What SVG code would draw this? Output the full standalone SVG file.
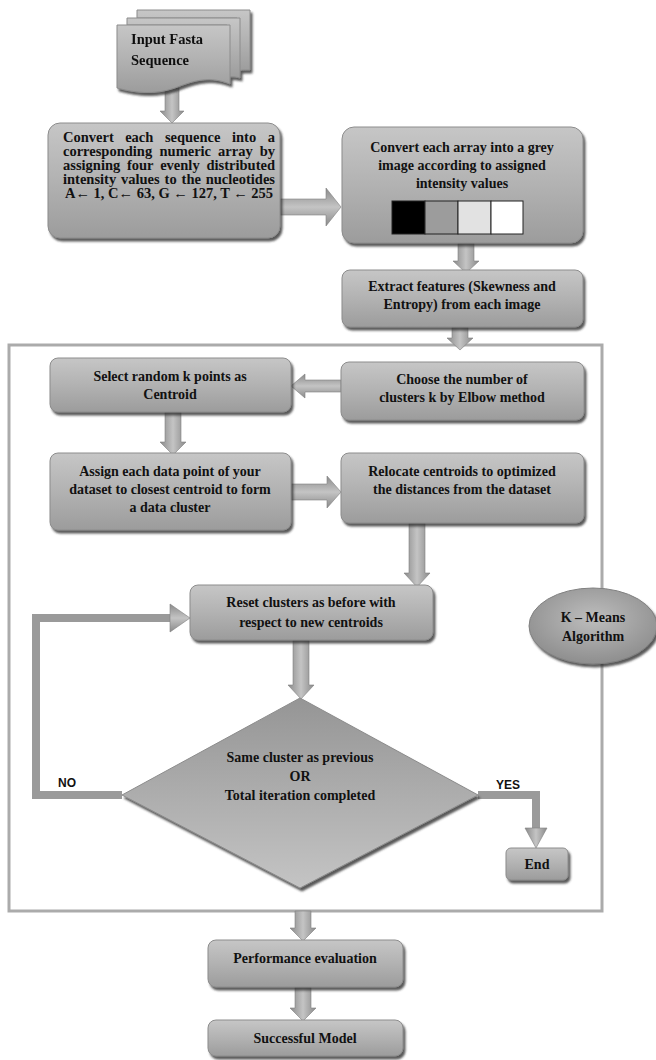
<svg xmlns="http://www.w3.org/2000/svg" width="656" height="1060" viewBox="0 0 656 1060">
<defs>
  <linearGradient id="gBox" x1="0" y1="0" x2="0" y2="1">
    <stop offset="0" stop-color="#c6c6c6"/>
    <stop offset="0.5" stop-color="#b2b2b2"/>
    <stop offset="1" stop-color="#9c9c9c"/>
  </linearGradient>
  <linearGradient id="gArrV" x1="0" y1="0" x2="1" y2="0">
    <stop offset="0" stop-color="#8a8a8a"/>
    <stop offset="0.5" stop-color="#c4c4c4"/>
    <stop offset="1" stop-color="#8a8a8a"/>
  </linearGradient>
  <linearGradient id="gArrH" x1="0" y1="0" x2="0" y2="1">
    <stop offset="0" stop-color="#8a8a8a"/>
    <stop offset="0.5" stop-color="#c4c4c4"/>
    <stop offset="1" stop-color="#8a8a8a"/>
  </linearGradient>
  <linearGradient id="gDia" x1="0" y1="0" x2="0" y2="1">
    <stop offset="0" stop-color="#959595"/>
    <stop offset="1" stop-color="#c4c4c4"/>
  </linearGradient>
  <radialGradient id="gEll" cx="0.5" cy="0.4" r="0.6">
    <stop offset="0" stop-color="#bdbdbd"/>
    <stop offset="1" stop-color="#8e8e8e"/>
  </radialGradient>
  <filter id="sh" x="-10%" y="-10%" width="125%" height="130%">
    <feDropShadow dx="2" dy="3" stdDeviation="1.2" flood-color="#333" flood-opacity="0.8"/>
  </filter>
  <style>
    .box{fill:url(#gBox);stroke:#8c8c8c;stroke-width:1;filter:url(#sh)}
    .t{font-family:"Liberation Serif","Times New Roman",serif;font-weight:bold;font-size:14px;fill:#111;text-anchor:middle}
    .tl{font-family:"Liberation Serif","Times New Roman",serif;font-weight:bold;font-size:14.5px;fill:#111}
    .lab{font-family:"Liberation Sans",Arial,sans-serif;font-weight:bold;font-size:12px;fill:#111}
    .av{fill:url(#gArrV);stroke:#808080;stroke-width:0.6}
    .ah{fill:url(#gArrH);stroke:#808080;stroke-width:0.6}
    .ln{fill:none;stroke:#9a9a9a;stroke-width:8}
    .e{text-anchor:end}
  </style>
</defs>
<rect width="656" height="1060" fill="#fff"/>

<!-- frame -->
<rect id="frame" x="9" y="345" width="593" height="566" fill="none" stroke="#ababab" stroke-width="3"/>

<!-- connectors -->
<g id="connectors">
  <polygon class="av" points="165,88 179,88 179,111 184,111 172,123 160,111 165,111"/>
  <polygon class="ah" points="280,199 326,199 326,188 341,207 326,226 326,215 280,215"/>
  <polygon class="av" points="458,243 474,243 474,261 479,261 466,273 453,261 458,261"/>
  <polygon class="av" points="452,327 468,327 468,338 473,338 460,350 447,338 452,338"/>
  <polygon class="ah" points="341,380 305,380 305,374 291,386 305,398 305,392 341,392"/>
  <polygon class="av" points="165,412 181,412 181,442 186,442 173,455 160,442 165,442"/>
  <polygon class="ah" points="291,484 327,484 327,476 341,492 327,508 327,500 291,500"/>
  <polygon class="av" points="409,523 425,523 425,573 430,573 417,587 404,573 409,573"/>
  <polygon class="av" points="293,640 309,640 309,685 314,685 301,699 288,685 293,685"/>
  <polyline class="ln" points="122,795 36,795 36,618 172,618"/>
  <polygon class="ah" points="170,604 190,618 170,632"/>
  <polyline class="ln" points="478,795 536,795 536,830"/>
  <polygon class="av" points="525,828 547,828 536,848"/>
  <polygon class="av" points="295,911 311,911 311,928 316,928 303,941 290,928 295,928"/>
  <polygon class="av" points="295,987 311,987 311,1008 316,1008 303,1021 290,1008 295,1008"/>
  <text class="lab" x="58" y="787">NO</text>
  <text class="lab" x="496" y="789">YES</text>
</g>

<!-- input document stack -->
<g id="input" filter="url(#sh)">
  <path d="M137,10 H250 V70 C240,70 240,70 237,72 V18 H137 Z" fill="url(#gBox)" stroke="#8c8c8c"/>
  <path d="M127,18 H240 V78 C232,76 230,77 227,78 V25 H127 Z" fill="url(#gBox)" stroke="#8c8c8c"/>
  <path d="M117,25 H230 V84 C210,76 195,80 175,88 C155,95 135,93 117,88 Z" fill="url(#gBox)" stroke="#8c8c8c"/>
  <text class="tl" x="131" y="44" font-size="15.5">Input Fasta</text>
  <text class="tl" x="131" y="65" font-size="15.5">Sequence</text>
</g>

<g id="convert-seq">
  <rect class="box" x="48" y="123" width="232" height="115" rx="12"/>
  <text class="tl" y="142"><tspan x="63">Convert</tspan><tspan x="125.2">each</tspan><tspan x="164.9">sequence</tspan><tspan x="232">into</tspan><tspan x="275" class="e">a</tspan></text>
  <text class="tl" y="156"><tspan x="63">corresponding</tspan><tspan x="159.5">numeric</tspan><tspan x="218.1">array</tspan><tspan x="275" class="e">by</tspan></text>
  <text class="tl" y="170"><tspan x="63">assigning</tspan><tspan x="126.9">four</tspan><tspan x="160.2">evenly</tspan><tspan x="275" class="e">distributed</tspan></text>
  <text class="tl" y="184"><tspan x="63">intensity</tspan><tspan x="121">values</tspan><tspan x="164.6">to</tspan><tspan x="181.6">the</tspan><tspan x="275" class="e">nucleotides</tspan></text>
  <text class="tl" x="169" y="198" text-anchor="middle">A← 1, C← 63, G ← 127, T ← 255</text>
</g>

<g id="convert-array">
  <rect class="box" x="342" y="127" width="241" height="116" rx="12"/>
  <text class="t" x="462" y="152">Convert each array into a grey</text>
  <text class="t" x="462" y="170">image according to assigned</text>
  <text class="t" x="462" y="188">intensity values</text>
  <rect x="392" y="201" width="33" height="33" fill="#000" stroke="#222" stroke-width="1"/>
  <rect x="425" y="201" width="33" height="33" fill="#9c9c9c" stroke="#222" stroke-width="1"/>
  <rect x="458" y="201" width="33" height="33" fill="#e2e2e2" stroke="#222" stroke-width="1"/>
  <rect x="491" y="201" width="32" height="33" fill="#fff" stroke="#222" stroke-width="1"/>
</g>

<g id="extract">
  <rect class="box" x="342" y="270" width="241" height="57" rx="8"/>
  <text class="t" x="462" y="291">Extract features (Skewness and</text>
  <text class="t" x="462" y="309">Entropy) from each image</text>
</g>

<g id="select">
  <rect class="box" x="50" y="358" width="241" height="54" rx="8"/>
  <text class="t" x="170" y="381">Select random k points as</text>
  <text class="t" x="170" y="399">Centroid</text>
</g>

<g id="choose">
  <rect class="box" x="341" y="362" width="243" height="58" rx="8"/>
  <text class="t" x="462" y="384">Choose the number of</text>
  <text class="t" x="462" y="402">clusters k by Elbow method</text>
</g>

<g id="assign">
  <rect class="box" x="50" y="453" width="241" height="77" rx="8"/>
  <text class="t" x="170" y="476">Assign each data point of your</text>
  <text class="t" x="170" y="494">dataset to closest centroid to form</text>
  <text class="t" x="170" y="512">a data cluster</text>
</g>

<g id="relocate">
  <rect class="box" x="341" y="453" width="243" height="70" rx="8"/>
  <text class="t" x="462" y="476">Relocate centroids to optimized</text>
  <text class="t" x="462" y="494">the distances from the dataset</text>
</g>

<g id="reset">
  <rect class="box" x="190" y="585" width="243" height="55" rx="8"/>
  <text class="t" x="311" y="607">Reset clusters as before with</text>
  <text class="t" x="311" y="627">respect to new centroids</text>
</g>

<g id="kmeans">
  <ellipse cx="593" cy="626" rx="64" ry="38" fill="url(#gEll)" stroke="#808080" stroke-width="1" filter="url(#sh)"/>
  <text class="t" x="593" y="622" font-size="15">K – Means</text>
  <text class="t" x="593" y="641" font-size="15">Algorithm</text>
</g>

<g id="decision">
  <polygon points="300,698 478,795 300,888 122,795" fill="url(#gDia)" stroke="#8c8c8c" stroke-width="1" filter="url(#sh)"/>
  <text class="t" x="300" y="762">Same cluster as previous</text>
  <text class="t" x="300" y="781">OR</text>
  <text class="t" x="300" y="800">Total iteration completed</text>
</g>

<g id="end">
  <rect class="box" x="506" y="848" width="62" height="32" rx="5"/>
  <text class="t" x="537" y="869">End</text>
</g>

<g id="performance">
  <rect class="box" x="208" y="940" width="195" height="47" rx="8"/>
  <text class="t" x="305" y="963" font-size="15">Performance evaluation</text>
</g>

<g id="successful">
  <rect class="box" x="208" y="1020" width="195" height="36" rx="8"/>
  <text class="t" x="305" y="1043" font-size="15">Successful Model</text>
</g>
</svg>
